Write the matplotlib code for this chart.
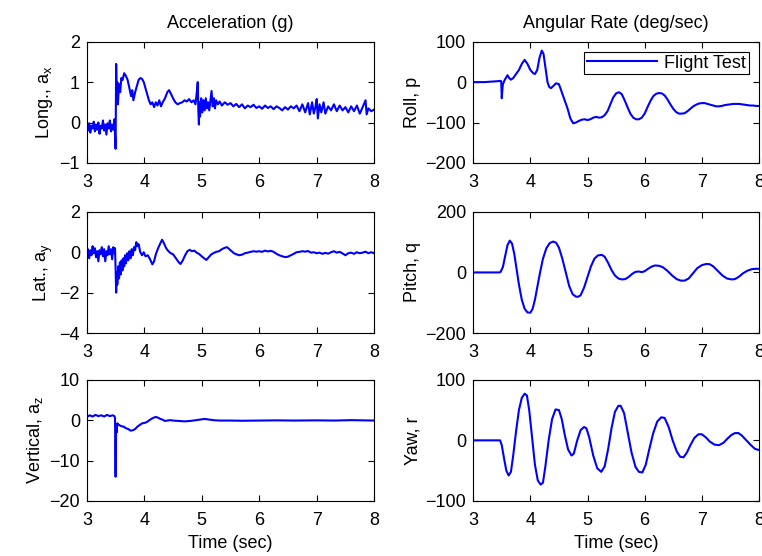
import matplotlib
matplotlib.use("Agg")
import matplotlib.pyplot as plt

plt.rcParams["font.family"] = ["Liberation Sans", "DejaVu Sans"]
plt.rcParams["mathtext.default"] = "regular"
plt.rcParams["font.size"] = 13

# --- data (time in sec) ---
ax_t = [3.00, 3.02, 3.04, 3.06, 3.08, 3.10, 3.12, 3.14, 3.16, 3.18, 3.20, 3.22, 3.24, 3.26,
        3.28, 3.30, 3.32, 3.34, 3.36, 3.38, 3.40, 3.42, 3.44, 3.46, 3.48, 3.49, 3.50, 3.51,
        3.52, 3.53, 3.54, 3.56, 3.58, 3.60, 3.62, 3.65, 3.68, 3.71, 3.74, 3.77, 3.79, 3.81,
        3.84, 3.87, 3.90, 3.93, 3.96, 3.99, 4.02, 4.05, 4.08, 4.11, 4.14, 4.17, 4.20, 4.23,
        4.26, 4.29, 4.32, 4.36, 4.40, 4.43, 4.46, 4.50, 4.54, 4.58, 4.62, 4.66, 4.70, 4.74,
        4.78, 4.82, 4.86, 4.89, 4.91, 4.93, 4.94, 4.95, 4.96, 4.97, 4.99, 5.01, 5.03, 5.05,
        5.07, 5.09, 5.11, 5.13, 5.15, 5.17, 5.19, 5.21, 5.23, 5.25, 5.28, 5.31, 5.35, 5.40,
        5.45, 5.50, 5.55, 5.60, 5.65, 5.70, 5.75, 5.80, 5.85, 5.90, 5.95, 6.00, 6.05, 6.10,
        6.15, 6.20, 6.25, 6.30, 6.35, 6.40, 6.45, 6.50, 6.55, 6.60, 6.65, 6.70, 6.75, 6.80,
        6.85, 6.88, 6.92, 6.95, 6.98, 7.00, 7.02, 7.05, 7.08, 7.12, 7.15, 7.20, 7.25, 7.30,
        7.35, 7.40, 7.45, 7.50, 7.55, 7.60, 7.65, 7.70, 7.75, 7.80, 7.85, 7.87, 7.90, 7.95,
        8.00]
ax_g = [-0.05, -0.20, -0.02, -0.25, -0.08, -0.15, 0.02, -0.22, -0.05, -0.18, 0.00, -0.28,
        -0.08, -0.15, 0.05, -0.20, -0.05, -0.30, -0.02, -0.15, 0.05, -0.22, -0.05, -0.18,
        0.08, -0.30, -0.65, 1.45, 0.60, 1.00, 0.45, 0.95, 0.75, 1.10, 1.05, 1.22, 1.15, 1.05,
        0.85, 0.65, 0.80, 0.55, 0.75, 0.90, 1.05, 1.10, 1.08, 1.00, 0.85, 0.70, 0.55, 0.45,
        0.50, 0.38, 0.50, 0.42, 0.55, 0.40, 0.50, 0.60, 0.75, 0.80, 0.72, 0.60, 0.50, 0.45,
        0.48, 0.50, 0.55, 0.52, 0.58, 0.50, 0.55, 0.45, 0.70, 1.00, 0.30, -0.05, 0.50, 0.15,
        0.60, 0.25, 0.55, 0.30, 0.60, 0.35, 0.50, 0.30, 0.55, 0.78, 0.40, 0.60, 0.35, 0.55,
        0.45, 0.52, 0.42, 0.50, 0.44, 0.48, 0.40, 0.46, 0.38, 0.45, 0.35, 0.42, 0.38, 0.44,
        0.36, 0.40, 0.34, 0.42, 0.36, 0.40, 0.33, 0.40, 0.36, 0.30, 0.38, 0.32, 0.40, 0.35,
        0.42, 0.28, 0.45, 0.25, 0.48, 0.20, 0.50, 0.22, 0.40, 0.58, 0.10, 0.45, 0.25, 0.50,
        0.22, 0.40, 0.30, 0.45, 0.28, 0.42, 0.30, 0.38, 0.25, 0.40, 0.28, 0.42, 0.22, 0.38,
        0.55, 0.20, 0.35, 0.28, 0.32]

ay_t = [3.00, 3.02, 3.04, 3.06, 3.08, 3.10, 3.12, 3.14, 3.16, 3.18, 3.20, 3.22, 3.24, 3.26,
        3.28, 3.30, 3.32, 3.34, 3.36, 3.38, 3.40, 3.42, 3.44, 3.46, 3.48, 3.49, 3.50, 3.51,
        3.52, 3.53, 3.545, 3.56, 3.575, 3.59, 3.605, 3.62, 3.635, 3.65, 3.665, 3.68, 3.70,
        3.72, 3.74, 3.76, 3.78, 3.80, 3.82, 3.84, 3.86, 3.88, 3.90, 3.93, 3.96, 3.99, 4.02,
        4.06, 4.10, 4.14, 4.17, 4.20, 4.24, 4.28, 4.31, 4.34, 4.38, 4.42, 4.46, 4.50, 4.55,
        4.60, 4.63, 4.67, 4.71, 4.75, 4.79, 4.83, 4.87, 4.91, 4.95, 5.00, 5.04, 5.08, 5.12,
        5.16, 5.20, 5.25, 5.30, 5.35, 5.40, 5.44, 5.48, 5.52, 5.56, 5.60, 5.65, 5.70, 5.75,
        5.80, 5.85, 5.90, 5.95, 6.00, 6.05, 6.10, 6.15, 6.20, 6.25, 6.30, 6.35, 6.40, 6.45,
        6.50, 6.55, 6.60, 6.65, 6.70, 6.75, 6.80, 6.85, 6.90, 6.95, 7.00, 7.05, 7.10, 7.15,
        7.20, 7.25, 7.30, 7.35, 7.40, 7.45, 7.50, 7.55, 7.60, 7.65, 7.70, 7.75, 7.80, 7.85,
        7.90, 7.95, 8.00]
ay_g = [-0.10, 0.15, -0.30, 0.10, -0.15, 0.30, -0.05, 0.20, -0.25, 0.05, -0.45, 0.10,
        -0.10, 0.25, -0.20, 0.15, -0.45, 0.05, -0.15, 0.30, -0.10, 0.15, -0.35, 0.25, -0.05,
        0.20, -0.80, -2.00, -1.00, -1.60, -0.70, -1.30, -0.50, -1.10, -0.40, -0.90, -0.30,
        -0.70, -0.15, -0.55, -0.05, -0.40, 0.05, -0.30, 0.15, -0.15, 0.25, 0.10, 0.50, 0.30,
        0.40, 0.00, -0.15, 0.00, -0.20, -0.15, -0.35, -0.60, -0.45, -0.10, 0.20, 0.45, 0.62,
        0.45, 0.20, 0.05, -0.05, -0.10, -0.30, -0.50, -0.58, -0.40, -0.15, 0.05, 0.12, 0.05,
        0.08, -0.02, -0.08, -0.20, -0.30, -0.38, -0.25, -0.12, -0.05, 0.02, 0.05, 0.15, 0.22,
        0.25, 0.15, 0.05, -0.05, -0.10, -0.15, -0.12, -0.05, -0.02, 0.02, 0.05, 0.03, 0.05,
        0.02, 0.08, 0.04, 0.07, 0.02, -0.08, -0.15, -0.20, -0.24, -0.22, -0.15, -0.08, 0.00,
        0.02, 0.05, 0.03, 0.06, -0.02, 0.00, -0.05, -0.02, -0.08, -0.03, -0.07, 0.00, 0.05,
        -0.02, 0.02, -0.06, -0.15, -0.05, -0.02, -0.08, 0.00, -0.05, -0.02, 0.03, -0.05, 0.00,
        -0.05]

az_t = [3.00, 3.05, 3.10, 3.15, 3.20, 3.25, 3.30, 3.35, 3.40, 3.45, 3.48, 3.49, 3.50, 3.505,
        3.51, 3.52, 3.53, 3.56, 3.60, 3.64, 3.68, 3.72, 3.76, 3.80, 3.84, 3.88, 3.92, 3.96,
        4.00, 4.04, 4.08, 4.12, 4.16, 4.20, 4.24, 4.28, 4.32, 4.36, 4.40, 4.45, 4.50, 4.60,
        4.70, 4.80, 4.90, 5.00, 5.05, 5.10, 5.20, 5.30, 5.50, 5.70, 6.00, 6.30, 6.60, 7.00,
        7.30, 7.60, 8.00]
az_g = [0.8, 1.2, 0.9, 1.3, 1.0, 1.2, 0.9, 1.3, 1.0, 1.2, 1.0, 0.5, -14.0, -6.0, -1.0, -3.0,
        -0.8, -1.2, -1.5, -1.6, -2.0, -2.2, -2.6, -2.5, -2.2, -1.6, -1.2, -0.8, -0.7, -0.5,
        -0.1, 0.3, 0.6, 0.8, 0.6, 0.3, 0.1, -0.2, -0.1, 0.0, -0.1, -0.2, -0.3, -0.2, 0.0, 0.2,
        0.3, 0.2, 0.0, -0.1, -0.1, -0.15, -0.1, -0.05, -0.1, -0.05, -0.1, 0.0, -0.1]

p_t = [3.00, 3.10, 3.20, 3.30, 3.40, 3.48, 3.49, 3.50, 3.51, 3.52, 3.55, 3.60, 3.63, 3.66,
       3.70, 3.75, 3.80, 3.85, 3.90, 3.95, 4.00, 4.05, 4.08, 4.12, 4.16, 4.20, 4.23, 4.27,
       4.30, 4.33, 4.36, 4.40, 4.45, 4.50, 4.55, 4.60, 4.65, 4.70, 4.75, 4.80, 4.85, 4.90,
       4.95, 5.00, 5.05, 5.10, 5.15, 5.20, 5.25, 5.30, 5.35, 5.40, 5.45, 5.50, 5.55, 5.60,
       5.65, 5.70, 5.75, 5.80, 5.85, 5.90, 5.95, 6.00, 6.05, 6.10, 6.15, 6.20, 6.25, 6.30,
       6.35, 6.40, 6.45, 6.50, 6.55, 6.60, 6.65, 6.70, 6.75, 6.80, 6.85, 6.90, 6.95, 7.00,
       7.05, 7.10, 7.15, 7.20, 7.25, 7.30, 7.35, 7.40, 7.45, 7.50, 7.55, 7.60, 7.65, 7.70,
       7.75, 7.80, 7.85, 7.90, 7.95, 8.00]
p_dps = [0, 0, 0, 1, 2, 3, 2, -40, -20, -5, 5, 17, 10, 6, 10, 20, 30, 45, 55, 45, 30, 22, 20,
         30, 60, 78, 70, 30, 0, -12, -15, -10, -3, -5, -25, -45, -65, -90, -102, -100, -96,
         -93, -92, -94, -92, -88, -86, -88, -87, -82, -72, -55, -38, -28, -25, -30, -45, -62,
         -78, -88, -92, -92, -88, -78, -62, -47, -35, -29, -27, -28, -33, -43, -55, -66, -74,
         -78, -78, -77, -72, -66, -60, -56, -53, -52, -52, -54, -56, -58, -60, -60, -59, -57,
         -56, -55, -54, -54, -54, -55, -56, -57, -58, -58, -59, -59]

q_t = [3.00, 3.46, 3.48, 3.50, 3.52, 3.56, 3.60, 3.64, 3.68, 3.72, 3.76, 3.80, 3.85, 3.90,
       3.95, 4.00, 4.04, 4.08, 4.12, 4.17, 4.22, 4.28, 4.34, 4.40, 4.45, 4.50, 4.56, 4.62,
       4.68, 4.74, 4.80, 4.84, 4.88, 4.94, 5.00, 5.06, 5.12, 5.18, 5.25, 5.30, 5.36, 5.42,
       5.48, 5.54, 5.60, 5.66, 5.72, 5.78, 5.84, 5.90, 5.95, 6.00, 6.06, 6.12, 6.18, 6.25,
       6.32, 6.40, 6.48, 6.56, 6.63, 6.70, 6.77, 6.85, 6.92, 7.00, 7.08, 7.14, 7.20, 7.28,
       7.36, 7.44, 7.52, 7.58, 7.65, 7.72, 7.80, 7.88, 7.95, 8.00]
q_dps = [0, 0, 2, 10, 18, 55, 90, 105, 95, 60, 10, -40, -90, -120, -132, -133, -120, -90,
         -50, 0, 45, 80, 97, 102, 98, 82, 45, 0, -45, -72, -80, -80, -75, -50, -15, 20, 45,
         56, 58, 52, 32, 8, -10, -20, -23, -22, -15, -5, 2, 3, 1, 4, 12, 19, 23, 22, 17, 5,
         -10, -22, -27, -27, -20, -2, 14, 24, 28, 27, 20, 5, -10, -20, -23, -22, -14, -3, 6,
         11, 12, 12]

r_t = [3.00, 3.47, 3.50, 3.54, 3.58, 3.62, 3.66, 3.70, 3.75, 3.80, 3.85, 3.90, 3.94, 3.98,
       4.03, 4.08, 4.13, 4.18, 4.22, 4.26, 4.32, 4.38, 4.44, 4.50, 4.55, 4.60, 4.66, 4.72,
       4.76, 4.82, 4.88, 4.94, 4.98, 5.03, 5.10, 5.17, 5.24, 5.30, 5.36, 5.42, 5.48, 5.54,
       5.58, 5.64, 5.70, 5.77, 5.84, 5.90, 5.96, 6.02, 6.08, 6.15, 6.22, 6.29, 6.35, 6.42,
       6.49, 6.56, 6.62, 6.68, 6.74, 6.80, 6.87, 6.94, 7.00, 7.07, 7.14, 7.22, 7.30, 7.38,
       7.45, 7.52, 7.58, 7.64, 7.70, 7.78, 7.86, 7.93, 8.00]
r_dps = [0, 0, -8, -30, -50, -58, -52, -25, 15, 50, 70, 77, 74, 50, 5, -40, -66, -73, -70,
         -45, 0, 35, 51, 50, 35, 10, -15, -25, -22, 0, 17, 22, 20, 5, -25, -46, -52, -43, -15,
         20, 47, 57, 57, 45, 15, -20, -44, -52, -53, -40, -15, 12, 31, 38, 37, 22, 0, -18,
         -27, -28, -20, -8, 4, 10, 10, 5, -2, -7, -8, -4, 3, 9, 12, 12, 8, 0, -8, -14, -16]

panels = [
    # (pos, t, y, ylim, yticks, ylabel)
    ([0.114, 0.707, 0.377, 0.218], ax_t, ax_g, (-1, 2), [-1, 0, 1, 2], "Long., a$_x$"),
    ([0.114, 0.401, 0.377, 0.218], ay_t, ay_g, (-4, 2), [-4, -2, 0, 2], "Lat., a$_y$"),
    ([0.114, 0.099, 0.377, 0.218], az_t, az_g, (-20, 10), [-20, -10, 0, 10], "Vertical, a$_z$"),
    ([0.621, 0.707, 0.375, 0.218], p_t, p_dps, (-200, 100), [-200, -100, 0, 100], "Roll, p"),
    ([0.621, 0.401, 0.375, 0.218], q_t, q_dps, (-200, 200), [-200, 0, 200], "Pitch, q"),
    ([0.621, 0.099, 0.375, 0.218], r_t, r_dps, (-100, 100), [-100, 0, 100], "Yaw, r"),
]

fig = plt.figure(figsize=(7.62, 5.56), dpi=100)
axes = []
for pos, t, y, ylim, yt, lab in panels:
    a = fig.add_axes(pos)
    a.plot(t, y, color="#0000ff", lw=1.5, label="Flight Test")
    a.set_xlim(3, 8)
    a.set_ylim(*ylim)
    a.set_xticks([3, 4, 5, 6, 7, 8])
    a.set_yticks(yt)
    a.set_ylabel(lab, labelpad=3)
    a.tick_params(direction="in", top=True, right=True, length=4, width=0.8)
    a.tick_params(axis="x", pad=8)
    a.tick_params(axis="y", pad=5)
    for s in a.spines.values():
        s.set_linewidth(0.8)
    axes.append(a)

axes[0].set_title("Acceleration (g)", fontsize=13, pad=10)
axes[3].set_title("Angular Rate (deg/sec)", fontsize=13, pad=10)
axes[2].set_xlabel("Time (sec)", labelpad=4)
axes[5].set_xlabel("Time (sec)", labelpad=4)

leg = axes[3].legend(loc="upper right", fancybox=False, framealpha=1,
                     edgecolor="black", handlelength=3.9, handletextpad=0.4,
                     borderpad=0.15, borderaxespad=0.0,
                     bbox_to_anchor=(0.965, 0.915))
leg.get_frame().set_linewidth(0.8)

fig.savefig("out.png", dpi=100)
